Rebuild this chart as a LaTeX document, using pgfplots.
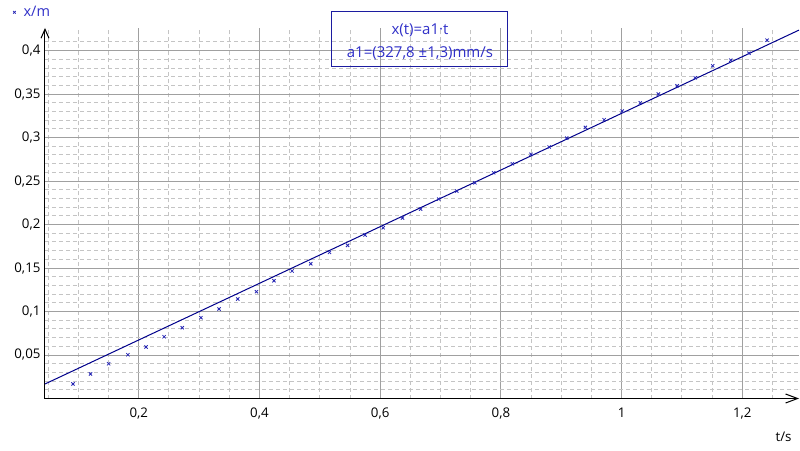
\documentclass[border=0pt]{standalone}
\usepackage{pgfplots}
\pgfplotsset{compat=1.18}
\usepackage{fontspec}
\setmainfont{Open Sans}
\usetikzlibrary{arrows.meta}
\definecolor{gridmaj}{HTML}{A0A0A0}
\definecolor{gridmin}{HTML}{C4C4C4}
\definecolor{ptblue}{HTML}{2626B4}
\definecolor{linenavy}{HTML}{00008B}
\definecolor{txtblue}{HTML}{3030C8}
\definecolor{boxnavy}{HTML}{1C1CA0}
\begin{document}
\begin{tikzpicture}
\path[use as bounding box] (-45pt,-51.5pt) rectangle (755pt,398.5pt);
\begin{axis}[
  scale only axis, width=754pt, height=370.5pt,
  xmin=0.0446, xmax=1.294, ymin=0, ymax=0.426,
  axis lines=left,
  axis line style={black, line width=1pt},
  x axis line style={-{Straight Barb[length=12pt,width=9pt]}},
  y axis line style={-{Straight Barb[length=9pt,width=8pt]}},
  xtick={0.2,0.4,0.6,0.8,1,1.2},
  xticklabels={{0,2},{0,4},{0,6},{0,8},1,{1,2}},
  ytick={0.05,0.1,0.15,0.2,0.25,0.3,0.35,0.4},
  yticklabels={{0,05},{0,1},{0,15},{0,2},{0,25},{0,3},{0,35},{0,4}},
  minor xtick={0.05,0.1,0.15,0.25,0.3,0.35,0.45,0.5,0.55,0.65,0.7,0.75,0.85,0.9,0.95,1.05,1.1,1.15,1.25},
  minor ytick={0.01,0.02,0.03,0.04,0.06,0.07,0.08,0.09,0.11,0.12,0.13,0.14,0.16,0.17,0.18,0.19,0.21,0.22,0.23,0.24,0.26,0.27,0.28,0.29,0.31,0.32,0.33,0.34,0.36,0.37,0.38,0.39,0.41},
  major tick length=0pt, minor tick length=0pt,
  grid=both,
  major grid style={gridmaj, line width=1pt},
  minor grid style={gridmin, line width=1pt, dash pattern=on 4pt off 3pt},
  tick label style={font=\fontsize{13.3}{15}\selectfont, black},
  /pgf/number format/assume math mode=true,
  xticklabel style={yshift=-6pt},
  yticklabel style={xshift=-1pt},
  clip=false,
  legend style={draw=none, fill=none, at={(rel axis cs:-0.0425,1.0424)}, anchor=west,
    font=\fontsize{14.5}{16}\selectfont, text=txtblue, inner sep=0pt},
  legend cell align=left,
  legend image code/.code={\draw[#1, mark size=1.8pt, line width=0.7pt] plot coordinates {(0pt,0pt)}; \path (7pt,0pt);},
]
\addplot[only marks, mark=x, mark size=2.3pt, ptblue, mark options={line width=0.8pt}] table {
t x
0.091 0.0167
0.120 0.0282
0.150 0.0400
0.182 0.0503
0.212 0.0592
0.242 0.0710
0.272 0.0814
0.303 0.0929
0.333 0.1029
0.364 0.1144
0.395 0.1228
0.424 0.1354
0.454 0.1466
0.485 0.1549
0.516 0.1680
0.546 0.1761
0.575 0.1879
0.605 0.1963
0.637 0.2075
0.667 0.2178
0.697 0.2293
0.727 0.2385
0.757 0.2480
0.788 0.2595
0.819 0.2699
0.850 0.2807
0.880 0.2891
0.909 0.2994
0.940 0.3117
0.971 0.3205
1.001 0.3305
1.031 0.3400
1.061 0.3500
1.092 0.3595
1.122 0.3687
1.151 0.3825
1.181 0.3890
1.211 0.3970
1.241 0.4120
};
\addlegendentry{x/m}
\addplot[linenavy, line width=1pt, forget plot] coordinates {(0.0446,0.0167) (1.294,0.4236)};
\node[draw=boxnavy, line width=1pt, minimum width=176pt, minimum height=55pt, inner sep=0pt]
  at (rel axis cs:0.4973,0.970) {};
\node[text=txtblue, align=center, inner sep=0pt, yshift=-3pt,
  font=\fontsize{15}{23}\selectfont] at (rel axis cs:0.4973,0.970) {x(t)=a1·t\\a1=(327,8 ±1,3)mm/s};
\node[anchor=east, font=\fontsize{13.3}{15}\selectfont, black] at (rel axis cs:0.9947,-0.104) {t/s};
\end{axis}
\end{tikzpicture}
\end{document}
